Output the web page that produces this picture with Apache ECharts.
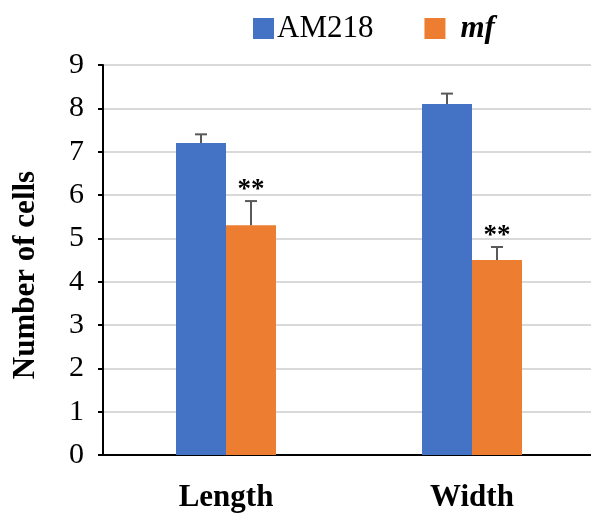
<!DOCTYPE html>
<html>
<head>
<meta charset="utf-8">
<script src="https://cdn.jsdelivr.net/npm/echarts@6/dist/echarts.min.js"></script>
<style>
  html, body { margin: 0; padding: 0; background: #fff; overflow: hidden; }
  /* a few px wider than the window: gridlines run off the right edge */
  #chart { width: 595px; height: 515px; }
</style>
</head>
<body>
<div id="chart"></div>
<script>
// data
const categories = ["Length", "Width"];
const am218 = [7.2, 8.1];
const am218Err = [0.2, 0.24];
const mf = [5.3, 4.5];
const mfErr = [0.56, 0.3];
const marks = ["**", "**"];
const yTicks = [0, 1, 2, 3, 4, 5, 6, 7, 8, 9];

const serif = "'Liberation Serif', 'Times New Roman', serif";
const chart = echarts.init(document.getElementById("chart"));

// up-only error bar with optional significance stars
function errorBar(values, errs, offset, stars) {
  return function (params, api) {
    const i = params.dataIndex;
    const base = api.coord([i, values[i]]);
    const top = api.coord([i, values[i] + errs[i]]);
    const x = base[0] + offset;
    const children = [
      {
        type: "line",
        shape: { x1: x, y1: base[1], x2: x, y2: top[1] },
        style: { stroke: "#595959", lineWidth: 2 }
      },
      {
        type: "line",
        shape: { x1: x - 6, y1: top[1], x2: x + 6, y2: top[1] },
        style: { stroke: "#595959", lineWidth: 2 }
      }
    ];
    if (stars) {
      children.push({
        type: "text",
        x: x,
        y: top[1] - 11,
        style: {
          text: stars[i],
          font: "bold 27px " + serif,
          fill: "#000",
          align: "center",
          verticalAlign: "middle"
        }
      });
    }
    return { type: "group", children: children };
  };
}

let options = {
  animation: false,
  legend: {
    top: 8,
    left: 248,
    itemWidth: 21,
    itemHeight: 21,
    itemGap: 51,
    icon: "rect",
    data: ["AM218", "mf"],
    formatter: function (name) {
      return name === "mf" ? "{it|mf}" : "{n|" + name + "}";
    },
    textStyle: {
      padding: [0, 0, 0, -2],
      rich: {
        n: { fontFamily: serif, fontSize: 31, color: "#000" },
        it: { fontFamily: serif, fontSize: 31, fontWeight: "bold", fontStyle: "italic", color: "#000", padding: [0, 0, 0, 12] }
      }
    }
  },
  grid: {
    left: 103,
    top: 65,
    right: 0,
    bottom: 60,
    containLabel: false
  },
  xAxis: {
    type: "category",
    data: categories,
    axisTick: { show: false },
    axisLine: { lineStyle: { color: "#000", width: 2 } },
    axisLabel: {
      margin: 27,
      fontFamily: serif,
      fontSize: 31,
      fontWeight: "bold",
      color: "#000"
    }
  },
  yAxis: {
    type: "value",
    min: 0,
    max: 9,
    interval: 1,
    name: "Number of cells",
    nameLocation: "middle",
    nameGap: 62,
    nameTextStyle: {
      fontFamily: serif,
      fontSize: 31,
      fontWeight: "bold",
      color: "#000",
      padding: [0, 30, 0, 0]
    },
    axisLine: { show: true, lineStyle: { color: "#000", width: 2 } },
    axisTick: { show: true, length: 5, lineStyle: { color: "#000", width: 2 } },
    axisLabel: {
      margin: 19,
      fontFamily: serif,
      fontSize: 30,
      color: "#000",
      formatter: function (v) { return yTicks.indexOf(v) >= 0 ? String(v) : ""; }
    },
    splitLine: { lineStyle: { color: "#d9d9d9", width: 2 } }
  },
  series: [
    {
      name: "AM218",
      type: "bar",
      data: am218,
      barWidth: 50,
      barGap: "0%",
      itemStyle: { color: "#4472C4" }
    },
    {
      name: "mf",
      type: "bar",
      data: mf,
      barWidth: 50,
      itemStyle: { color: "#ED7D31" }
    },
    {
      type: "custom",
      data: am218,
      renderItem: errorBar(am218, am218Err, -25, null),
      z: 5
    },
    {
      type: "custom",
      data: mf,
      renderItem: errorBar(mf, mfErr, 25, marks),
      z: 5
    }
  ]
};
chart.setOption(options);
</script>
</body>
</html>
